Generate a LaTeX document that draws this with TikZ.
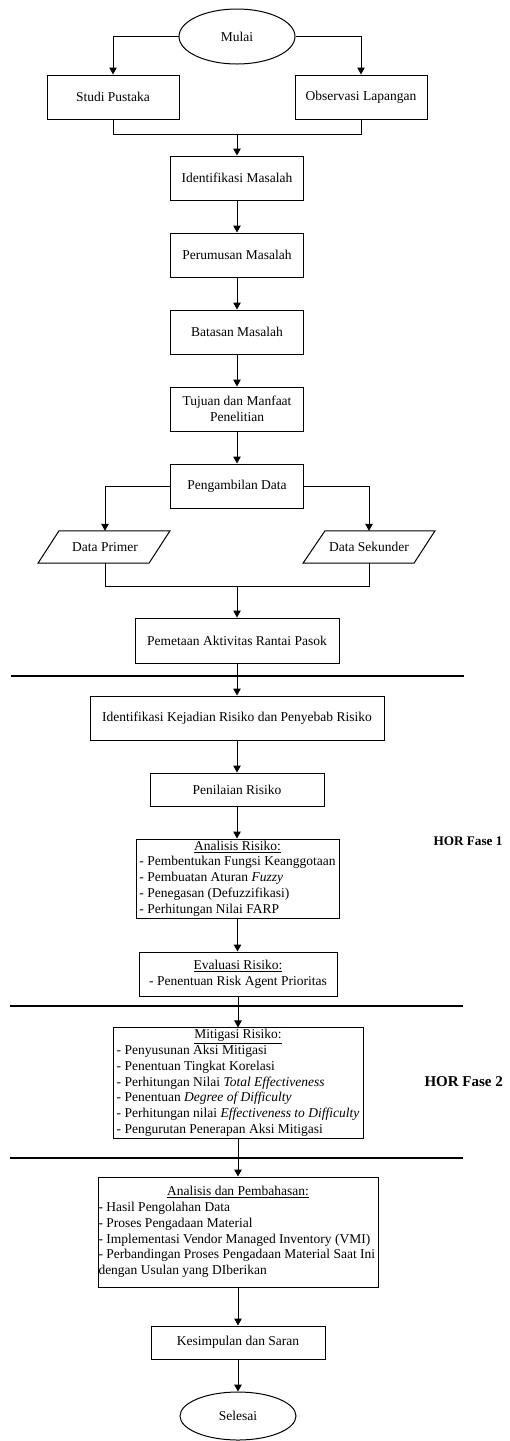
\documentclass[tikz,border=0pt]{standalone}
\usepackage{fontspec}
\setmainfont{Liberation Serif}
\usetikzlibrary{shapes.geometric,arrows.meta}

\begin{document}
\begin{tikzpicture}[x=1pt,y=-1pt,
  font=\fontsize{13.5}{15.7}\selectfont,
  line/.style={line width=1pt, draw=black},
  arr/.style={line, -{Triangle[length=7pt,width=7.5pt]}},
  box/.style={draw=black, line width=1pt, rectangle, inner sep=0pt, align=center},
  term/.style={draw=black, line width=1pt, ellipse, inner sep=0pt, minimum width=116pt},
  iobox/.style={inner sep=0pt, minimum height=32pt},
  sep/.style={line width=2pt, draw=black},
  phase/.style={anchor=west, font=\fontsize{13.2}{15.7}\selectfont\bfseries}
]
\useasboundingbox (0,0) rectangle (509,1441);

% --- start and literature / field study
\node[term, minimum height=55pt] (mulai) at (237,36.5) {Mulai};
\node[box, minimum width=132pt, minimum height=44pt] (studi) at (113,97) {Studi Pustaka};
\node[box, minimum width=132pt, minimum height=44pt] (obs) at (361,97) {Observasi Lapangan};
\coordinate (j1) at (237,134);

% --- problem definition chain
\node[box, minimum width=133pt, minimum height=44pt] (idm) at (237,178) {Identifikasi Masalah};
\node[box, minimum width=133pt, minimum height=44pt] (rum) at (237,255) {Perumusan Masalah};
\node[box, minimum width=133pt, minimum height=44pt] (bts) at (237,332) {Batasan Masalah};
\node[box, minimum width=133pt, minimum height=44pt] (tuj) at (237,409) {Tujuan dan Manfaat\\Penelitian};
\node[box, minimum width=133pt, minimum height=44pt] (amb) at (237,486) {Pengambilan Data};

% --- data inputs (parallelograms)
\node[iobox] (dp) at (105,547) {Data Primer};
\node[iobox] (ds) at (369,547) {Data Sekunder};
\draw[line] ([xshift=-46pt]dp.north) -- ([xshift=65pt]dp.north) -- ([xshift=44pt]dp.south) -- ([xshift=-67pt]dp.south) -- cycle;
\draw[line] ([xshift=-44pt]ds.north) -- ([xshift=66pt]ds.north) -- ([xshift=45pt]ds.south) -- ([xshift=-66pt]ds.south) -- cycle;
\coordinate (j2) at (237,586);

\node[box, minimum width=204pt, minimum height=45pt] (map) at (237,640.5) {Pemetaan Aktivitas Rantai Pasok};

% --- phase separators
\draw[sep] (11,676) -- (464,676);
\draw[sep] (10,1006) -- (463,1006);
\draw[sep] (10,1158) -- (463,1158);

% --- HOR phase 1
\node[box, minimum width=294pt, minimum height=44pt] (ikr) at (237,718) {Identifikasi Kejadian Risiko dan Penyebab Risiko};
\node[box, minimum width=174pt, minimum height=33pt] (nil) at (237,789.5) {Penilaian Risiko};
\node[box, minimum width=203pt, minimum height=79pt] (ana) at (237.5,878.5) {%
  \begin{tabular}{@{}l@{}}
  \multicolumn{1}{@{}c@{}}{\underline{Analisis Risiko:}}\\
  - Pembentukan Fungsi Keanggotaan\\
  - Pembuatan Aturan \textit{Fuzzy}\\
  - Penegasan (Defuzzifikasi)\\
  - Perhitungan Nilai FARP
  \end{tabular}};
\node[box, minimum width=198pt, minimum height=44pt] (eva) at (238,974) {%
  \begin{tabular}{@{}l@{}}
  \multicolumn{1}{@{}c@{}}{\underline{Evaluasi Risiko:}}\\
  - Penentuan Risk Agent Prioritas
  \end{tabular}};
\node[phase] (hor1) at (430,841) {HOR Fase 1};

% --- HOR phase 2
\node[box, minimum width=250pt, minimum height=110pt] (mit) at (238,1083) {%
  \begin{tabular}{@{}l@{}}
  \multicolumn{1}{@{}c@{}}{\underline{Mitigasi Risiko:}}\\
  - Penyusunan Aksi Mitigasi\\
  - Penentuan Tingkat Korelasi\\
  - Perhitungan Nilai \textit{Total Effectiveness}\\
  - Penentuan \textit{Degree of Difficulty}\\
  - Perhitungan nilai \textit{Effectiveness to Difficulty}\\
  - Pengurutan Penerapan Aksi Mitigasi
  \end{tabular}};
\node[phase, font=\fontsize{15}{17}\selectfont\bfseries] (hor2) at (421,1082) {HOR Fase 2};

% --- discussion and conclusion
\node[box, minimum width=280pt, minimum height=110pt] (bhs) at (238,1232) {%
  \begin{tabular}{@{}l@{}}
  \makebox[279pt][c]{\underline{Analisis dan Pembahasan:}}\\
  - Hasil Pengolahan Data\\
  - Proses Pengadaan Material\\
  - Implementasi Vendor Managed Inventory (VMI)\\
  - Perbandingan Proses Pengadaan Material Saat Ini\\
  dengan Usulan yang DIberikan
  \end{tabular}};
\node[box, minimum width=174pt, minimum height=33pt] (kes) at (238,1342.5) {Kesimpulan dan Saran};
\node[term, minimum height=48pt] (end) at (238,1416) {Selesai};

% --- connectors
\draw[arr] (mulai.west) -| (studi.north);
\draw[arr] (mulai.east) -| (obs.north);
\draw[line] (studi.south) |- (j1);
\draw[line] (obs.south) |- (j1);
\draw[arr] (j1) -- (idm.north);
\draw[arr] (idm) -- (rum);
\draw[arr] (rum) -- (bts);
\draw[arr] (bts) -- (tuj);
\draw[arr] (tuj) -- (amb);
\draw[arr] (amb.west) -| (dp.north);
\draw[arr] (amb.east) -| (ds.north);
\draw[line] (dp.south) |- (j2);
\draw[line] (ds.south) |- (j2);
\draw[arr] (j2) -- (map.north);
\draw[arr] (map) -- (ikr);
\draw[arr] (ikr) -- (nil);
\draw[arr] (nil.south) -- (nil.south |- ana.north);
\draw[arr] (ana.south) -- (ana.south |- eva.north);
\draw[arr] (eva) -- (mit);
\draw[arr] (mit) -- (bhs);
\draw[arr] (bhs) -- (kes);
\draw[arr] (kes) -- (end);
\end{tikzpicture}
\end{document}
